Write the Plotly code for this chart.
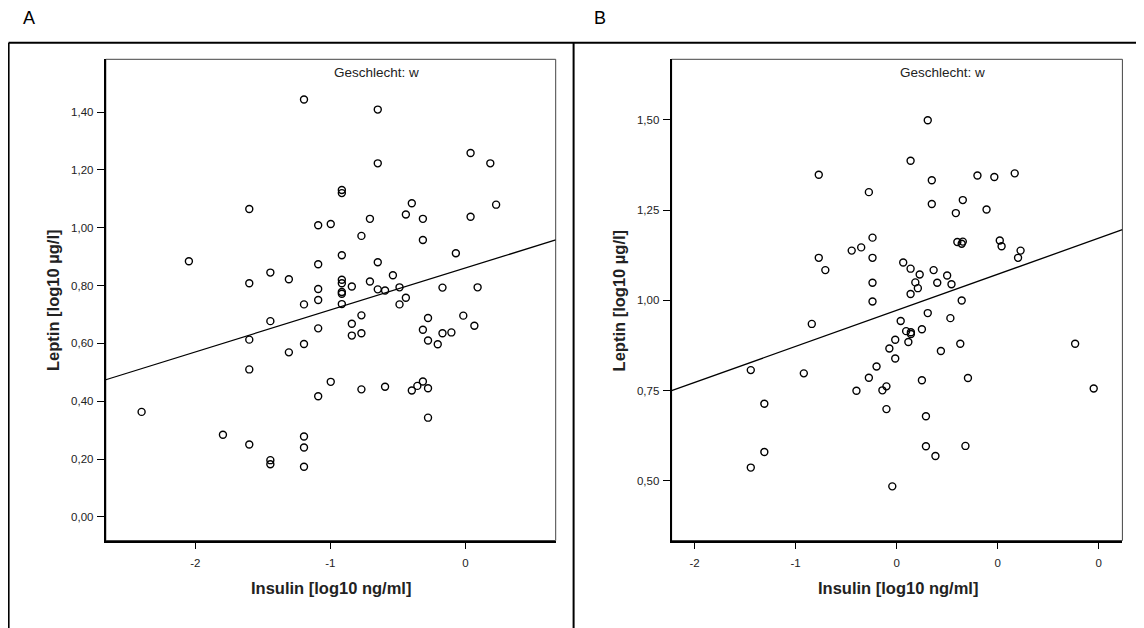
import plotly.graph_objects as go

W, H = 1144, 628
OFF = 8  # default page margin of the html body
FW, FH = W - OFF, H - OFF

# ---------------- data ----------------
a_insulin = [-1.195, -0.649, 0.038, -0.649, 0.184, -0.915, -0.915, -1.600, -0.397, 0.227,
             -0.441, 0.038, -1.090, -0.997, -0.707, -0.315, -0.770, -0.315, -2.047, -1.090,
             -0.649, -0.915, -0.071, -1.444, -1.307, -1.600, -0.915, -0.915, -0.841, -0.707,
             -0.537, -0.649, -0.595, -0.488, -1.090, -0.170, 0.090, -0.915, -0.915, -1.090,
             -1.195, -0.915, -0.488, -0.441, -0.770, -0.277, -0.016, -1.444, 0.066, -0.841,
             -1.600, -1.090, -0.841, -0.770, -0.315, -0.277, -0.170, -0.104, -0.205, -1.195,
             -1.307, -1.600, -0.997, -0.315, -0.356, -0.397, -0.277, -0.595, -0.770, -1.090,
             -2.397, -0.277, -1.795, -1.195, -1.600, -1.195, -1.444, -1.444, -1.195]
a_leptin = [1.444, 1.409, 1.259, 1.223, 1.223, 1.131, 1.120, 1.065, 1.085, 1.080,
            1.046, 1.038, 1.009, 1.013, 1.031, 1.031, 0.972, 0.958, 0.884, 0.874,
            0.881, 0.905, 0.912, 0.845, 0.822, 0.808, 0.820, 0.808, 0.797, 0.814,
            0.836, 0.787, 0.783, 0.794, 0.788, 0.793, 0.794, 0.778, 0.772, 0.750,
            0.735, 0.736, 0.735, 0.758, 0.697, 0.688, 0.696, 0.677, 0.661, 0.668,
            0.613, 0.652, 0.627, 0.635, 0.647, 0.610, 0.635, 0.638, 0.597, 0.598,
            0.569, 0.510, 0.467, 0.468, 0.453, 0.437, 0.445, 0.450, 0.441, 0.417,
            0.363, 0.343, 0.284, 0.278, 0.250, 0.240, 0.196, 0.182, 0.173]

b_insulin = [0.308, 0.138, -0.771, 0.348, 0.800, 0.967, 1.169, -0.275, 0.348, 0.655,
             0.586, 0.890, -0.239, 0.601, 0.655, 0.644, 1.021, 1.039, 1.227, 1.202,
             -0.445, -0.351, -0.771, -0.239, -0.706, 0.065, 0.138, 0.228, 0.366, 0.500,
             0.185, 0.402, 0.543, -0.239, 0.210, 0.138, -0.239, 0.644, 0.308, 0.532,
             0.040, -0.840, 0.094, 0.141, 0.141, 0.250, -0.014, 0.116, 0.630, -0.072,
             0.438, -0.014, 1.767, -0.199, -1.444, -0.919, -0.275, 0.706, 0.250, -0.101,
             -0.141, -0.398, 1.951, -1.310, -0.101, 0.290, 0.290, 0.681, 0.384, -1.310,
             -1.444, -0.043]
b_leptin = [1.499, 1.387, 1.348, 1.333, 1.346, 1.342, 1.352, 1.300, 1.267, 1.278,
            1.242, 1.252, 1.174, 1.162, 1.163, 1.157, 1.166, 1.150, 1.138, 1.118,
            1.138, 1.147, 1.118, 1.118, 1.084, 1.105, 1.088, 1.072, 1.084, 1.069,
            1.050, 1.049, 1.045, 1.049, 1.034, 1.018, 0.997, 1.000, 0.965, 0.951,
            0.943, 0.935, 0.915, 0.912, 0.907, 0.920, 0.891, 0.885, 0.880, 0.867,
            0.860, 0.839, 0.880, 0.817, 0.807, 0.798, 0.786, 0.785, 0.779, 0.762,
            0.751, 0.750, 0.756, 0.714, 0.699, 0.679, 0.596, 0.597, 0.569, 0.580,
            0.537, 0.485]

# regression lines: intercept, slope
a_fit = [0.861, 0.1453]
b_fit = [0.9726, 0.0999]

a_xrange = [-2.662, 0.668]
a_yrange = [-0.082, 1.583]
b_xrange = [-2.228, 2.235]
b_yrange = [0.335, 1.668]

a_xticks = [-2, -1, 0]
a_xticklabels = ["-2", "-1", "0"]
a_yticks = [0.0, 0.2, 0.4, 0.6, 0.8, 1.0, 1.2, 1.4]
b_xticks = [-2, -1, 0, 1, 2]
b_xticklabels = ["-2", "-1", "0", "0", "0"]
b_yticks = [0.5, 0.75, 1.0, 1.25, 1.5]

panel_labels = ["A", "B"]
subgroup_label = "Geschlecht: w"
x_title = "Insulin [log10 ng/ml]"
y_title = "Leptin [log10 µg/l]"

FONT = "Liberation Sans, Arial, Helvetica, sans-serif"


def px(x):
    return (x - OFF) / FW


def py(y):
    return 1 - (y - OFF) / FH


fig = go.Figure()

marker = dict(symbol="circle-open", size=7, color="black",
              line=dict(width=1.4, color="black"))
fig.add_trace(go.Scatter(x=a_insulin, y=a_leptin, mode="markers", xaxis="x", yaxis="y",
                         marker=marker, showlegend=False, cliponaxis=False))
fig.add_trace(go.Scatter(x=b_insulin, y=b_leptin, mode="markers", xaxis="x2", yaxis="y2",
                         marker=marker, showlegend=False, cliponaxis=False))

fig.add_trace(go.Scatter(x=a_xrange, y=[a_fit[0] + a_fit[1] * v for v in a_xrange],
                         mode="lines", xaxis="x", yaxis="y",
                         line=dict(color="black", width=1.3), showlegend=False))
fig.add_trace(go.Scatter(x=b_xrange, y=[b_fit[0] + b_fit[1] * v for v in b_xrange],
                         mode="lines", xaxis="x2", yaxis="y2",
                         line=dict(color="black", width=1.3), showlegend=False))

tickfont = dict(family=FONT, size=11.5, color="#222")
xaxis_common = dict(showgrid=False, zeroline=False, showline=True, linecolor="black",
                    linewidth=2, ticks="outside", ticklen=6, tickwidth=1.3,
                    tickcolor="black", tickfont=tickfont, ticklabelstandoff=5)
yaxis_common = dict(showgrid=False, zeroline=False, showline=True, linecolor="black",
                    linewidth=2, ticks="outside", ticklen=7, tickwidth=1.3,
                    tickcolor="black", tickfont=tickfont, ticklabelstandoff=1,
                    tickformat=".2f")

a_dom_x = [px(105.8), px(555.7)]
b_dom_x = [px(671.6), px(1122.4)]
dom_y = [py(540.5), py(59.3)]

fig.update_layout(
    width=FW, height=FH,
    margin=dict(l=0, r=0, t=0, b=0),
    paper_bgcolor="white", plot_bgcolor="white",
    separators=",.",
    font=dict(family=FONT, color="black"),
    xaxis=dict(domain=a_dom_x, range=a_xrange, tickvals=a_xticks, ticktext=a_xticklabels,
               anchor="y", **xaxis_common),
    yaxis=dict(domain=dom_y, range=a_yrange, tickvals=a_yticks, anchor="x", **yaxis_common),
    xaxis2=dict(domain=b_dom_x, range=b_xrange, tickvals=b_xticks, ticktext=b_xticklabels,
                anchor="y2", **xaxis_common),
    yaxis2=dict(domain=dom_y, range=b_yrange, tickvals=b_yticks, anchor="x2", **yaxis_common),
)

shapes = []
for dx in (a_dom_x, b_dom_x):
    shapes.append(dict(type="rect", xref="paper", yref="paper", x0=dx[0], x1=dx[1],
                       y0=dom_y[0], y1=dom_y[1], line=dict(color="#444", width=1),
                       layer="below"))
frame = dict(color="black", width=2)
shapes.append(dict(type="line", xref="paper", yref="paper", x0=px(8.6), x1=px(8.6),
                   y0=py(42.7), y1=py(660), line=frame))
shapes.append(dict(type="line", xref="paper", yref="paper", x0=px(8.6), x1=px(1160),
                   y0=py(42.7), y1=py(42.7), line=frame))
shapes.append(dict(type="line", xref="paper", yref="paper", x0=px(573.6), x1=px(573.6),
                   y0=py(42.7), y1=py(660), line=frame))
fig.update_layout(shapes=shapes)

ann = []
label_x = [29, 600.4]
sub_x = [376.3, 942.7]
xt_x = [331, 897.5]
yt_x = [53, 619.4]
for i in range(2):
    ann.append(dict(text=panel_labels[i], x=px(label_x[i]), y=py(18.3), xref="paper",
                    yref="paper", showarrow=False, xanchor="center", yanchor="middle",
                    font=dict(family=FONT, size=18, color="black")))
    ann.append(dict(text=subgroup_label, x=px(sub_x[i]), y=py(72.5), xref="paper",
                    yref="paper", showarrow=False, xanchor="center", yanchor="middle",
                    font=dict(family=FONT, size=13.5, color="#222")))
    ann.append(dict(text="<b>" + x_title + "</b>", x=px(xt_x[i]), y=py(588), xref="paper",
                    yref="paper", showarrow=False, xanchor="center", yanchor="middle",
                    font=dict(family=FONT, size=16.5, color="#222")))
    ann.append(dict(text="<b>" + y_title + "</b>", x=px(yt_x[i]), y=py(300), xref="paper",
                    yref="paper", showarrow=False, xanchor="center", yanchor="middle",
                    textangle=-90, font=dict(family=FONT, size=16.5, color="#222")))
fig.update_layout(annotations=ann)

fig.write_html("out.html")
